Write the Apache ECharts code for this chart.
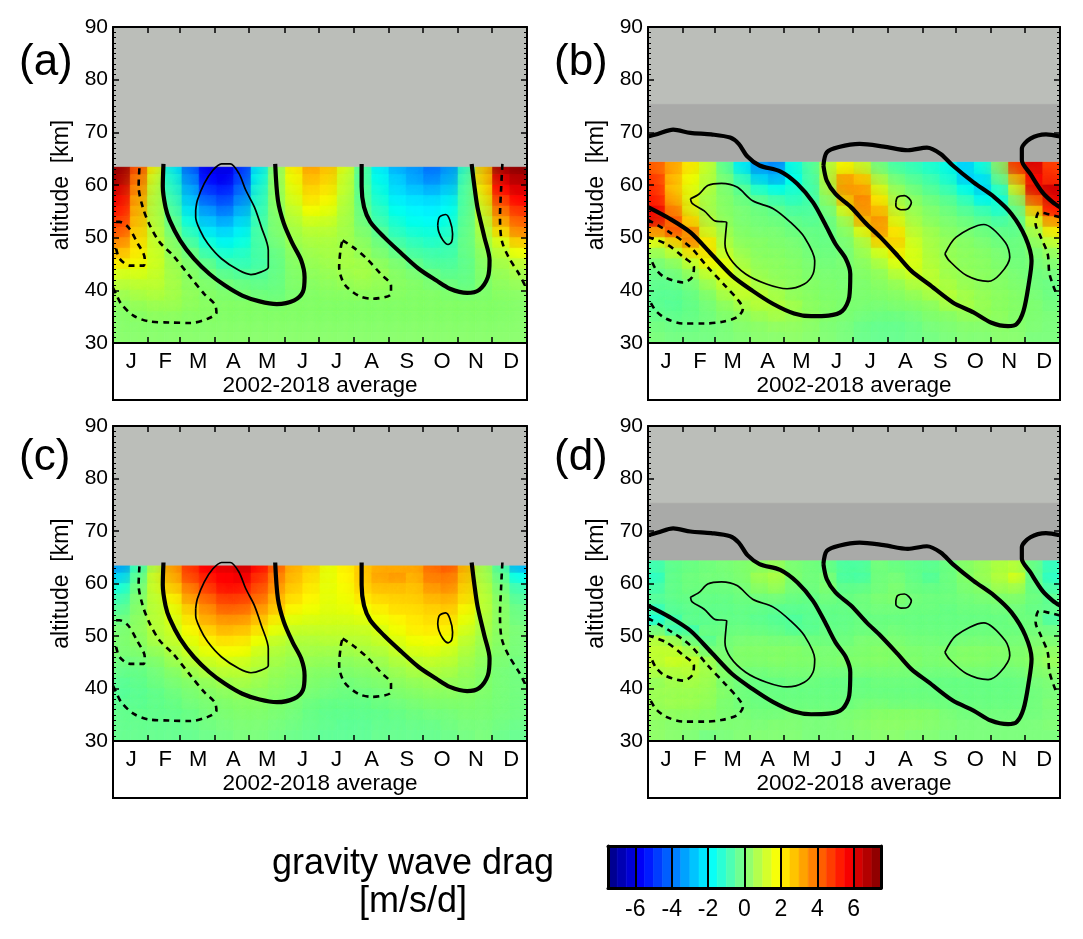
<!DOCTYPE html>
<html><head><meta charset="utf-8">
<style>html,body{margin:0;padding:0;background:#fff}#c{width:1083px;height:939px}</style>
<script src="https://cdn.jsdelivr.net/npm/echarts@6/dist/echarts.min.js"></script>
</head><body><div id="c"></div>
<script>
const monthStarts = [0,31,59,90,120,151,181,212,243,273,304,334,365];
const monthMids = [16,46,75,106,136,167,197,228,259,290,320,351];
const monthLetters = ['J','F','M','A','M','J','J','A','S','O','N','D'];
const altitudes = [63,61,59,57,55,53,51,49,47,45,43,41,39,37,35,33,31];
const halfMonthEdges = [0,15.2,30.4,45.6,60.8,76,91.2,106.5,121.7,136.9,152.1,167.3,182.5,197.7,212.9,228.1,243.3,258.5,273.8,289,304.2,319.4,334.6,349.8,365];
const colorbarLevels = [-7.25,-6.75,-6.25,-5.75,-5.25,-4.75,-4.25,-3.75,-3.25,-2.75,-2.25,-1.75,-1.25,-0.75,-0.25,0.25,0.75,1.25,1.75,2.25,2.75,3.25,3.75,4.25,4.75,5.25,5.75,6.25,6.75,7.25];
const colorbarTicks = [-6,-4,-2,0,2,4,6];

const dragA = [
[7.2,4.5,2.0,-2.0,-4.0,-5.8,-6.0,-5.0,-2.0,0.3,2.0,3.3,2.8,1.5,-0.5,-2.0,-3.0,-3.3,-4.0,-3.5,-1.2,2.5,7.0,7.4],
[7.0,4.0,1.5,-1.5,-3.5,-5.5,-5.8,-4.8,-1.8,0.3,1.8,3.0,2.6,1.3,-0.5,-1.8,-2.6,-3.2,-3.8,-3.3,-1.0,2.3,6.2,6.9],
[6.3,3.6,1.2,-1.2,-3.0,-5.0,-5.3,-4.3,-1.5,0.3,1.6,2.6,2.3,1.2,-0.4,-1.6,-2.4,-2.8,-3.2,-2.8,-0.8,1.9,5.6,6.2],
[5.8,3.2,1.0,-0.9,-2.6,-4.3,-4.8,-3.8,-1.3,0.3,1.4,2.3,2.0,1.0,-0.4,-1.4,-2.1,-2.3,-2.5,-2.2,-0.7,1.6,4.8,5.6],
[5.4,3.0,0.9,-0.6,-2.2,-3.5,-4.2,-3.2,-1.1,0.2,1.1,1.9,1.7,0.9,-0.2,-1.1,-1.8,-2.0,-2.1,-1.9,-0.6,1.3,4.0,5.0],
[5.0,2.8,0.9,-0.3,-1.7,-2.8,-3.4,-2.6,-0.9,0.1,0.9,1.4,1.3,0.8,-0.1,-0.9,-1.5,-1.8,-1.9,-1.7,-0.5,1.0,3.2,4.4],
[4.6,2.6,1.0,-0.1,-1.2,-2.2,-2.6,-2.1,-0.7,0.1,0.7,1.0,1.0,0.7,0.1,-0.5,-1.2,-1.5,-1.6,-1.4,-0.4,0.8,2.4,3.8],
[3.8,2.4,1.1,0.2,-0.7,-1.6,-2.0,-1.7,-0.7,0.0,0.6,0.8,0.8,0.6,0.3,-0.2,-0.8,-1.1,-1.3,-1.1,-0.3,0.6,1.5,2.7],
[3.0,2.2,1.2,0.3,-0.2,-1.0,-1.5,-1.3,-0.7,-0.2,0.4,0.6,0.7,0.7,0.4,0.0,-0.4,-0.8,-0.9,-0.9,-0.3,0.4,1.0,1.8],
[2.2,2.0,1.3,0.5,0.1,-0.4,-1.0,-1.1,-0.8,-0.3,0.3,0.5,0.6,0.7,0.6,0.3,0.0,-0.4,-0.7,-0.7,-0.4,0.3,0.7,1.1],
[1.4,1.5,1.2,0.6,0.2,-0.1,-0.5,-0.7,-0.6,-0.3,0.2,0.4,0.5,0.6,0.7,0.5,0.2,0.0,-0.3,-0.5,-0.4,0.2,0.5,0.7],
[1.0,1.1,1.1,0.7,0.3,0.1,-0.1,-0.3,-0.4,-0.3,0.2,0.3,0.4,0.5,0.6,0.5,0.3,0.2,0.0,-0.2,-0.4,0.1,0.4,0.5],
[0.6,0.8,0.9,0.7,0.4,0.2,0.1,0.0,-0.2,-0.3,0.0,0.2,0.3,0.3,0.4,0.4,0.3,0.2,0.2,0.1,0.0,0.1,0.3,0.3],
[0.3,0.5,0.6,0.6,0.4,0.3,0.2,0.2,0.2,0.1,0.2,0.2,0.2,0.2,0.2,0.2,0.2,0.2,0.2,0.2,0.2,0.2,0.2,0.2],
[0.2,0.3,0.4,0.4,0.3,0.3,0.2,0.2,0.2,0.2,0.2,0.2,0.2,0.2,0.2,0.2,0.2,0.2,0.2,0.2,0.2,0.2,0.2,0.2],
[0.2,0.2,0.2,0.2,0.2,0.2,0.2,0.2,0.2,0.2,0.2,0.2,0.2,0.2,0.2,0.2,0.2,0.2,0.2,0.2,0.2,0.2,0.2,0.2],
[0.2,0.2,0.2,0.2,0.2,0.2,0.2,0.2,0.2,0.2,0.2,0.2,0.2,0.2,0.2,0.2,0.2,0.2,0.2,0.2,0.2,0.2,0.2,0.2]];

const dragB = [
[4.2,3.2,2.2,1.2,-0.3,-2.0,-3.4,-3.8,-1.6,-0.7,0.8,1.8,1.2,-0.2,-0.8,-1.0,-1.3,-1.6,-2.5,-1.6,0.2,4.8,6.2,4.6],
[4.8,2.8,1.8,1.0,0.0,-1.1,-2.6,-3.2,-1.8,-0.8,0.9,3.2,2.6,0.6,-0.3,-0.6,-0.9,-1.4,-2.6,-2.3,-0.3,3.0,5.6,4.8],
[5.0,2.6,1.6,0.9,0.1,-0.5,-1.4,-1.9,-1.5,-0.9,0.7,3.4,3.3,1.4,0.3,-0.2,-0.6,-1.0,-1.8,-2.6,-1.2,1.6,5.8,6.3],
[5.2,2.9,1.5,0.7,0.2,-0.2,-0.5,-0.9,-1.2,-0.9,0.3,2.8,3.8,2.0,0.6,0.2,-0.2,-0.5,-1.1,-2.0,-1.7,0.4,4.4,6.0],
[5.8,3.6,1.5,0.6,0.2,0.0,-0.2,-0.4,-0.7,-0.7,-0.1,1.5,3.6,2.8,1.0,0.4,0.1,-0.2,-0.6,-1.0,-1.5,-0.4,2.6,5.6],
[6.0,4.4,2.2,0.8,0.3,0.0,-0.1,-0.2,-0.4,-0.5,-0.3,0.6,3.0,3.6,1.4,0.6,0.2,0.0,-0.2,-0.5,-0.8,-0.6,1.4,3.6],
[3.6,4.8,3.8,1.2,0.5,0.1,0.0,0.0,-0.2,-0.3,-0.3,0.2,1.6,3.6,2.2,0.9,0.5,0.2,0.0,-0.2,-0.4,-0.5,0.7,2.2],
[1.6,2.6,4.0,2.2,0.7,0.2,0.2,0.1,0.0,-0.2,-0.3,0.0,0.8,2.6,2.6,1.2,0.6,0.4,0.2,0.0,-0.2,-0.3,0.4,1.2],
[0.6,1.2,2.4,2.4,1.0,0.4,0.2,0.2,0.1,-0.1,-0.2,-0.1,0.5,1.4,2.2,1.4,0.7,0.4,0.3,0.2,0.0,-0.2,0.1,0.5],
[0.1,0.4,1.2,2.0,1.6,0.6,0.3,0.3,0.2,0.0,-0.1,0.0,0.3,0.8,1.6,1.5,0.8,0.5,0.3,0.3,0.1,-0.1,0.0,0.2],
[-0.2,0.0,0.5,1.2,1.7,0.9,0.4,0.3,0.3,0.1,0.0,0.0,0.2,0.4,1.0,1.4,1.0,0.5,0.4,0.3,0.2,0.0,-0.1,0.0],
[-0.3,-0.3,0.0,0.6,1.3,1.3,0.6,0.4,0.3,0.2,0.1,0.0,0.1,0.3,0.5,0.9,1.1,0.7,0.4,0.3,0.2,0.1,-0.1,-0.2],
[-0.4,-0.4,-0.2,0.2,0.8,1.2,1.0,0.6,0.3,0.2,0.1,0.1,0.1,0.2,0.3,0.5,0.8,1.0,0.6,0.4,0.3,0.2,0.0,-0.2],
[-0.4,-0.5,-0.3,0.0,0.4,0.8,1.0,0.9,0.6,0.3,0.2,0.1,0.1,0.1,0.2,0.3,0.4,0.8,0.8,0.5,0.3,0.2,0.1,-0.1],
[-0.3,-0.4,-0.3,-0.1,0.2,0.4,0.6,0.8,0.6,0.4,0.2,0.1,0.0,-0.1,-0.1,0.0,0.2,0.3,0.5,0.5,0.4,0.2,0.1,0.0],
[-0.1,-0.2,-0.2,-0.1,0.0,0.2,0.3,0.4,0.4,0.3,0.1,0.0,-0.2,-0.3,-0.3,-0.2,0.0,0.1,0.2,0.2,0.3,0.2,0.1,0.0],
[0.0,-0.1,-0.1,-0.1,0.0,0.1,0.2,0.2,0.3,0.2,0.1,0.0,-0.2,-0.3,-0.3,-0.2,-0.1,0.0,0.1,0.1,0.2,0.2,0.0,0.0]];

const dragC = [
[-3.4,-1.0,0.8,3.2,4.8,5.6,6.0,6.4,5.4,4.2,3.0,2.6,1.5,2.0,2.6,3.0,3.0,3.0,4.0,4.4,3.0,0.6,-0.6,-3.0],
[-2.6,-0.6,1.2,3.0,4.6,5.2,5.6,5.8,5.0,3.8,2.9,2.4,1.5,1.9,2.6,3.2,3.4,2.9,3.8,4.0,2.8,0.7,-0.3,-1.8],
[-1.6,-0.3,1.2,2.6,3.9,4.8,5.4,5.4,4.6,3.5,2.7,2.2,1.5,1.8,2.5,2.9,2.9,2.7,3.4,3.7,2.6,0.9,0.0,-1.0],
[-1.0,0.0,1.0,2.0,3.3,4.2,4.8,4.8,4.2,3.1,2.4,2.0,1.5,1.7,2.2,2.5,2.6,2.6,3.0,3.2,2.4,1.0,0.2,-0.6],
[-0.6,0.1,0.9,1.6,2.6,3.6,4.3,4.3,3.6,2.8,2.0,1.8,1.5,1.6,1.8,2.1,2.4,2.4,2.6,2.8,2.0,1.0,0.3,-0.3],
[-0.3,0.2,0.9,1.4,2.2,3.2,3.6,3.6,3.0,2.2,1.6,1.5,1.4,1.4,1.5,1.8,2.0,2.2,2.4,2.4,1.7,0.9,0.3,-0.2],
[0.0,0.3,0.9,1.2,1.9,2.6,3.1,3.0,2.4,1.7,1.2,1.2,1.2,1.2,1.2,1.4,1.8,2.1,2.2,2.1,1.4,0.8,0.3,0.0],
[0.1,0.3,0.8,1.1,1.6,2.1,2.4,2.3,1.8,1.2,0.9,0.9,1.0,1.0,1.0,1.2,1.5,1.8,1.9,1.8,1.1,0.6,0.3,0.0],
[0.1,0.2,0.5,0.9,1.3,1.7,1.9,1.9,1.4,0.9,0.7,0.7,0.7,0.7,0.8,0.9,1.2,1.5,1.6,1.4,0.9,0.5,0.2,0.0],
[-0.1,0.0,0.2,0.6,1.0,1.3,1.5,1.4,1.1,0.7,0.5,0.5,0.5,0.4,0.5,0.6,0.9,1.1,1.2,1.1,0.7,0.4,0.1,-0.1],
[-0.2,-0.2,0.0,0.3,0.7,0.9,1.1,1.1,0.8,0.5,0.4,0.3,0.3,0.2,0.3,0.4,0.6,0.8,0.9,0.8,0.5,0.3,0.0,-0.1],
[-0.4,-0.3,-0.1,0.1,0.3,0.5,0.7,0.8,0.6,0.4,0.3,0.2,0.1,0.0,0.1,0.2,0.4,0.5,0.6,0.5,0.4,0.2,0.0,-0.1],
[-0.5,-0.4,-0.3,-0.1,0.1,0.3,0.4,0.5,0.4,0.3,0.2,0.1,0.0,-0.1,-0.1,0.0,0.2,0.3,0.4,0.4,0.3,0.2,0.0,-0.1],
[-0.4,-0.4,-0.3,-0.2,0.0,0.1,0.2,0.3,0.3,0.2,0.1,-0.1,-0.2,-0.2,-0.2,-0.1,0.0,0.1,0.2,0.2,0.2,0.1,0.0,-0.1],
[-0.3,-0.3,-0.3,-0.3,-0.2,0.0,0.1,0.2,0.2,0.1,0.0,-0.2,-0.3,-0.3,-0.3,-0.3,-0.2,-0.1,0.0,0.0,0.1,0.1,0.0,-0.1],
[-0.3,-0.3,-0.3,-0.3,-0.2,-0.1,0.0,0.1,0.1,0.0,-0.1,-0.2,-0.3,-0.4,-0.4,-0.3,-0.3,-0.2,-0.2,-0.1,0.0,0.0,-0.1,-0.2],
[-0.3,-0.3,-0.3,-0.3,-0.3,-0.2,-0.1,0.0,0.0,-0.1,-0.2,-0.3,-0.4,-0.4,-0.4,-0.3,-0.3,-0.3,-0.3,-0.2,-0.1,0.0,-0.2,-0.3]];

const dragD = [
[-0.8,-0.3,-0.2,-0.1,0.0,0.1,0.2,0.4,0.0,-0.1,-0.2,-0.6,-0.6,0.0,-0.2,-0.3,-0.4,-0.2,0.2,0.4,0.7,0.9,-0.2,-1.0],
[-1.2,-0.3,-0.1,0.0,0.0,0.1,0.6,0.9,0.1,-0.1,0.1,-0.7,-0.8,-0.1,0.0,-0.3,-0.6,-0.2,0.2,0.5,0.9,1.6,-0.3,-1.2],
[-0.8,-0.3,-0.1,-0.1,-0.1,0.0,0.4,0.7,0.1,-0.1,0.2,-0.4,-0.4,-0.1,0.1,-0.2,-0.3,-0.2,0.1,0.3,0.7,0.9,-0.2,-0.8],
[-0.4,-0.2,-0.2,-0.2,-0.2,-0.1,0.0,0.1,-0.1,-0.2,0.0,-0.2,-0.1,0.1,0.2,0.0,-0.1,-0.1,0.0,0.1,0.2,0.3,-0.1,-0.4],
[-0.9,-0.3,-0.2,-0.3,-0.3,-0.2,-0.2,-0.3,-0.3,-0.3,-0.2,-0.2,-0.1,0.0,0.0,-0.1,-0.1,-0.2,-0.1,-0.1,0.0,0.0,-0.2,-0.3],
[-1.6,-0.8,-0.2,-0.3,-0.3,-0.3,-0.4,-0.5,-0.6,-0.4,-0.3,-0.3,-0.2,-0.2,-0.2,-0.2,-0.2,-0.2,-0.2,-0.2,-0.2,-0.1,-0.1,-0.7],
[-0.2,-1.2,-1.0,-0.2,-0.2,-0.2,-0.3,-0.4,-0.6,-0.5,-0.3,-0.3,-0.2,-0.2,-0.1,-0.2,-0.2,-0.2,-0.2,-0.2,-0.2,-0.2,-0.1,-0.2],
[0.8,0.4,-0.4,-0.6,-0.1,0.0,0.0,-0.1,-0.1,-0.2,-0.2,-0.2,0.0,0.0,0.0,-0.1,-0.1,-0.2,-0.1,-0.1,-0.1,-0.1,0.0,0.0],
[1.0,1.0,0.5,-0.2,-0.1,0.2,0.2,0.2,0.2,0.1,0.0,0.0,0.1,0.2,0.2,0.1,0.0,0.1,0.2,0.2,0.2,0.1,0.2,0.3],
[1.0,1.3,1.2,0.6,0.0,0.2,0.2,0.3,0.2,0.2,0.1,0.2,0.2,0.3,0.2,0.2,0.1,0.2,0.3,0.3,0.2,0.2,0.3,0.5],
[0.8,0.9,1.0,0.7,0.2,0.0,0.0,0.1,0.1,0.1,0.0,0.0,0.1,0.1,0.1,0.1,0.0,0.0,0.1,0.1,0.0,0.0,0.2,0.3],
[0.4,0.6,0.7,0.6,0.1,-0.1,-0.2,-0.2,-0.1,-0.1,-0.2,-0.2,-0.2,-0.1,-0.1,-0.1,-0.2,-0.2,-0.2,-0.2,-0.2,-0.2,0.0,0.1],
[0.5,0.5,0.5,0.5,0.2,-0.1,-0.2,-0.2,-0.2,-0.2,-0.2,-0.2,-0.2,-0.2,-0.2,-0.2,-0.2,-0.2,-0.2,-0.2,-0.2,-0.2,-0.1,0.0],
[0.5,0.6,0.6,0.5,0.1,-0.1,-0.2,-0.2,-0.2,-0.2,-0.2,-0.2,-0.1,-0.1,-0.2,-0.2,-0.2,-0.2,-0.2,-0.2,-0.2,-0.2,-0.1,0.1],
[0.4,0.4,0.4,0.3,0.1,0.0,-0.1,-0.1,0.0,0.0,-0.1,0.0,0.1,0.2,0.2,0.2,0.2,0.0,-0.1,-0.1,-0.1,-0.1,-0.1,0.0],
[0.3,0.2,0.2,0.2,0.1,0.1,0.0,0.1,0.1,0.0,0.0,0.1,0.2,0.3,0.3,0.3,0.2,0.1,0.0,0.0,0.0,0.0,0.0,0.1],
[0.3,0.2,0.1,-0.1,0.0,0.1,0.1,0.1,0.1,0.0,0.0,0.0,0.1,0.2,0.2,0.1,0.1,0.0,0.0,0.0,0.0,0.0,0.0,0.0]];

// wind contours, panels (a) and (c)
const acBold1 = [[44.5,64],[43.9,59.7],[46.3,55.8],[50,53.3],[59.1,49.5],[71.3,46],[85.1,43.1],[98.8,40.9],[114,39],[129.3,37.9],[144.5,37.4],[159.8,38.1],[167.4,39.7],[168.9,42.5],[165.9,45.7],[158.2,48.9],[150.6,52.7],[145.4,57.1],[143,64]];
const acBold2 = [[219.2,64],[219.2,59.7],[221.3,55.8],[226.8,53],[239,50.1],[254.3,47],[269.5,44.1],[284.8,41.9],[297,40.3],[312.2,39.5],[322.9,40.1],[330.5,42.5],[332,45.7],[327.4,50.1],[321.3,55.8],[318.3,60.3],[316.2,64]];
const acThin1 = [[72.9,55.2],[74.4,57.1],[80.5,60.3],[88.1,62.8],[95.7,64],[103.4,64],[111,62.2],[117.1,59],[124.7,55.8],[130.8,52],[136.9,47.6],[136.9,44.4],[130.8,43.5],[121.6,43],[111,43.8],[95.7,46],[83.5,48.9],[76.8,51.4],[72.9,53.9],[72.9,55.2]];
const acThin2 = [[286.3,52.3],[287.8,53.9],[293.3,54.4],[297,53.3],[299.4,50.7],[298.5,49.2],[295.4,48.7],[290.9,49.5],[287.2,51.1],[286.3,52.3]];
const acDash1 = [[0,40.5],[2.7,39.3],[7.3,37.4],[18,35.2],[31.7,34.1],[50,33.9],[68.3,33.8],[83.5,34.6],[91.2,35.8],[89.6,37.4],[80.5,39.3],[68.3,42.5],[53,46.6],[40.9,49.2],[31.7,52.7],[26.2,55.8],[22.6,59.7],[23.5,64]];
const acDash2 = [[2.7,53],[5.8,53],[13.4,52],[21,49.2],[28,46],[27.1,44.7],[14.9,44.7],[5.8,46],[2.7,47.9],[1.2,48.9]];
const acDash3 = [[202.4,49.5],[211.6,48.2],[223.8,46],[236,43.1],[245.1,40.9],[245.1,39.3],[228.4,38.4],[216.2,39],[204,41.2],[199.4,44.4],[200.9,48.2],[202.4,49.5]];
const acDash4 = [[343.3,64],[342.1,59],[341.2,53.9],[342.7,49.5],[348.8,46.3],[358,43.1],[364,40.6]];

// wind contours, panels (b) and (d)
const bdBold1 = [[0,69.2],[8.6,69.7],[22.3,70.5],[37.6,69.9],[56,69.6],[72.8,69],[80.4,67.8],[88.1,65.4],[98.8,63.7],[117.1,62.6],[132.4,60.2],[146.2,56.7],[156.9,52.6],[166.1,48.8],[175.2,46],[179.2,43.1],[178.3,38.7],[172.2,36.1],[159.9,35.2],[144.6,35.1],[129.4,35.6],[111,37.4],[92.7,39.9],[74.3,42.8],[56,46.9],[37.6,51],[19.3,53.6],[0,55.8]];
const bdBold2 = [[155.4,63.7],[158.4,66.2],[169.1,67.2],[187.5,67.8],[208.9,67.3],[230.3,66.6],[247.1,67.1],[259.3,65.9],[270,63.7],[288.4,60.5],[306.7,57.7],[322,54.5],[334.3,50.1],[339.8,45.6],[337.3,41.2],[332.7,36.1],[326.6,33.6],[319,33.2],[303.7,33.9],[288.4,35.8],[270,37.7],[248.6,41.2],[233.3,43.7],[221.1,46.6],[205.8,50.1],[193.6,52.6],[179.8,55.8],[166.1,58.3],[158.4,60.8],[155.4,63.7]];
const bdBold3 = [[365,69.2],[352.6,69.6],[338.8,68.8],[331.2,66.9],[331.2,64.7],[338.8,62.1],[349.5,58.6],[358.7,56.7],[365,55.8]];
const bdThin1 = [[37.6,57.4],[45.3,58.3],[52.9,59.9],[65.1,60.3],[78.9,59.6],[92.7,57],[111,55.5],[126.3,52.9],[138.5,50.1],[147.7,45.6],[146.2,43.1],[138.5,41.2],[123.2,40.3],[104.9,41.2],[86.5,43.1],[72.8,46],[68.2,48.8],[69.7,52.9],[59,53.2],[49.8,55.1],[39.1,56.5],[37.6,57.4]];
const bdThin2 = [[219.6,56.7],[221.1,57.7],[227.2,58],[233.3,56.7],[230.3,55.5],[224.1,55.3],[219.6,56],[219.6,56.7]];
const bdThin3 = [[263,46.9],[273,50.1],[297.6,52.5],[316.6,49.1],[320.5,46.3],[312,43.1],[301.3,41.7],[282.3,42.8],[267,45.6],[263,46.9]];
const bdDash1 = [[0,53.4],[19.3,51],[37.6,48.2],[52.9,44.4],[68.2,40.9],[80.4,38],[84.1,36.5],[78.9,34.9],[65.1,34],[49.8,33.7],[31.5,33.7],[16.2,34.6],[7,36.1],[1.5,38]];
const bdDash2 = [[0,50.1],[16.2,48.8],[31.5,46.3],[40.7,44.4],[39.1,42.5],[31.5,41.5],[14.7,42.5],[7,44],[2.4,46]];
const bdDash3 = [[365,53.9],[355.7,54.4],[346.5,54.8],[343.4,52.6],[348,50.1],[354.1,46.9],[355.7,43.1],[361.8,39.3]];

const dataTopAC = 63.5, dataTopBD = 64.5, gapTopBD = 75.3;
const GRAY_LIGHT = '#bbbeb9', GRAY_DARK = '#a9aaa8';
const FONT = '"Liberation Sans", Arial, sans-serif';

const panels = [
 {tag:'(a)',field:dragA,top:dataTopAC,left:113,width:414,gridTop:27,height:316,tagY:63,contours:'ac'},
 {tag:'(b)',field:dragB,top:dataTopBD,left:648,width:412,gridTop:27,height:316,tagY:63,contours:'bd'},
 {tag:'(c)',field:dragC,top:dataTopAC,left:113,width:414,gridTop:426,height:315,tagY:458,contours:'ac'},
 {tag:'(d)',field:dragD,top:dataTopBD,left:648,width:412,gridTop:426,height:315,tagY:458,contours:'bd'}
];
const contourSets = {
 ac:{bold:[acBold1,acBold2],thin:[acThin1,acThin2],dash:[acDash1,acDash2,acDash3,acDash4]},
 bd:{bold:[bdBold1,bdBold2,bdBold3],thin:[bdThin1,bdThin2,bdThin3],dash:[bdDash1,bdDash2,bdDash3]}
};

function cellRenderer(fixedColor,soft){
  return function(params,api){
    const a=api.coord([api.value(0),api.value(3)]), b=api.coord([api.value(1),api.value(2)]);
    const c=fixedColor||api.visual('color');
    const style={fill:c,stroke:c,lineWidth:0.6};
    if(soft){style.shadowBlur=24;style.shadowColor=c;}
    return {type:'rect',shape:{x:a[0],y:a[1],width:b[0]-a[0],height:b[1]-a[1]},style};
  };
}
const grids=[],xAxes=[],yAxes=[],series=[],graphics=[],heatIdx=[];
panels.forEach((p,i)=>{
  grids.push({left:p.left,top:p.gridTop,width:p.width,height:p.height,show:false});
  const xBase={type:'value',gridIndex:i,min:0,max:365,z:6,splitLine:{show:false},
    axisLine:{show:true,onZero:false,lineStyle:{color:'#000',width:2}},
    axisTick:{show:true,inside:true,length:6,customValues:monthStarts,lineStyle:{color:'#000',width:1.5}}};
  xAxes.push(Object.assign({},xBase,{position:'bottom',name:'2002-2018 average',nameLocation:'middle',nameGap:30,
    nameTextStyle:{color:'#000',fontFamily:FONT,fontSize:22.5},
    axisLabel:{show:true,customValues:monthMids,margin:8,color:'#000',fontFamily:FONT,fontSize:22,
      formatter:(v)=>monthLetters[monthMids.indexOf(v)]}}));
  xAxes.push(Object.assign({},xBase,{position:'top',axisLabel:{show:false}}));
  const yBase={type:'value',gridIndex:i,min:30,max:90,interval:10,z:6,splitLine:{show:false},
    axisLine:{show:true,onZero:false,lineStyle:{color:'#000',width:2}},
    axisTick:{show:true,inside:true,length:6,lineStyle:{color:'#000',width:1.5}},
    minorTick:{show:true,splitNumber:10,length:3,lineStyle:{color:'#000',width:1}}};
  yAxes.push(Object.assign({},yBase,{position:'left',name:'altitude  [km]',nameLocation:'middle',nameRotate:90,nameGap:40,
    nameTextStyle:{color:'#000',fontFamily:FONT,fontSize:23},
    axisLabel:{show:true,margin:5,color:'#000',fontFamily:FONT,fontSize:21}}));
  yAxes.push(Object.assign({},yBase,{position:'right',axisLabel:{show:false}}));

  const ax={xAxisIndex:2*i,yAxisIndex:2*i};
  const cells=[];
  p.field.forEach((row,r)=>row.forEach((v,k)=>{
    const alt=altitudes[r];
    cells.push([halfMonthEdges[k],halfMonthEdges[k+1],alt-1,r===0?p.top:alt+1,v]);
  }));
  heatIdx.push(series.length);
  series.push(Object.assign({type:'custom',silent:true,z:1,clip:true,renderItem:cellRenderer(null,true),
    encode:{x:[0,1],y:[2,3]},data:cells},ax));
  const masks=[{lo:p.top,hi:90,c:GRAY_LIGHT}];
  if(p.top===dataTopBD) masks.push({lo:p.top,hi:gapTopBD,c:GRAY_DARK});
  masks.forEach(m=>series.push(Object.assign({type:'custom',silent:true,z:2,renderItem:cellRenderer(m.c),
    encode:{x:[0,1],y:[2,3]},data:[[0,365,m.lo,m.hi]]},ax)));
  const cs=contourSets[p.contours];
  const addLine=(pts,style)=>series.push(Object.assign({type:'line',silent:true,z:3,data:pts,showSymbol:false,smooth:0.3,
    lineStyle:style},ax));
  cs.bold.forEach(c=>addLine(c,{color:'#000',width:4.2}));
  cs.thin.forEach(c=>addLine(c,{color:'#000',width:1.7}));
  cs.dash.forEach(c=>addLine(c,{color:'#000',width:2.6,type:[6,5]}));
  graphics.push({type:'rect',silent:true,z:-1,shape:{x:p.left,y:p.gridTop+p.height,width:p.width,height:57},style:{fill:'#fff',stroke:'#000',lineWidth:2}});
  graphics.push({type:'text',silent:true,x:p.left-94,y:p.tagY,style:{text:p.tag,fill:'#000',font:'44px '+FONT,verticalAlign:'middle'}});
});

// colour bar
const barGrid=grids.length, barX=xAxes.length, barY=yAxes.length;
grids.push({left:608,top:846,width:273,height:42,show:false});
xAxes.push({type:'value',gridIndex:barGrid,min:-7.5,max:7.5,z:6,splitLine:{show:false},
  axisLine:{show:true,onZero:false,lineStyle:{color:'#000',width:3}},
  axisTick:{show:true,inside:true,length:42,customValues:colorbarTicks,lineStyle:{color:'#000',width:2}},
  axisLabel:{show:true,customValues:colorbarTicks,margin:10,color:'#000',fontFamily:FONT,fontSize:23}});
yAxes.push({type:'value',gridIndex:barGrid,min:0,max:1,show:false});
xAxes.push({type:'value',gridIndex:barGrid,min:-7.5,max:7.5,position:'top',z:6,splitLine:{show:false},
  axisLine:{show:true,onZero:false,lineStyle:{color:'#000',width:3}},axisTick:{show:false},axisLabel:{show:false}});
yAxes.push({type:'value',gridIndex:barGrid,min:0,max:1,position:'left',z:6,splitLine:{show:false},
  axisLine:{show:true,onZero:false,lineStyle:{color:'#000',width:3}},axisTick:{show:false},axisLabel:{show:false}});
yAxes.push({type:'value',gridIndex:barGrid,min:0,max:1,position:'right',z:6,splitLine:{show:false},
  axisLine:{show:true,onZero:false,lineStyle:{color:'#000',width:3}},axisTick:{show:false},axisLabel:{show:false}});
heatIdx.push(series.length);
series.push({type:'custom',silent:true,z:2,xAxisIndex:barX,yAxisIndex:barY,renderItem:cellRenderer(),
  encode:{x:[0,1],y:[2,3]},data:colorbarLevels.map(v=>[v-0.25,v+0.25,0,1,v])});
graphics.push({type:'text',silent:true,x:413,y:864,style:{text:'gravity wave drag',fill:'#000',font:'36px '+FONT,align:'center',verticalAlign:'middle'}});
graphics.push({type:'text',silent:true,x:413,y:902,style:{text:'[m/s/d]',fill:'#000',font:'36px '+FONT,align:'center',verticalAlign:'middle'}});

const chart=echarts.init(document.getElementById('c'),null,{renderer:'canvas'});
chart.setOption({animation:false,backgroundColor:'#fff',grid:grids,xAxis:xAxes,yAxis:yAxes,series,graphic:graphics,
  visualMap:{type:'continuous',show:false,min:-7.5,max:7.5,dimension:4,seriesIndex:heatIdx,
    inRange:{color:['#000080','#0000ff','#0080ff','#00ffff','#80ff80','#ffff00','#ff8000','#ff0000','#800000']}}});
</script></body></html>
